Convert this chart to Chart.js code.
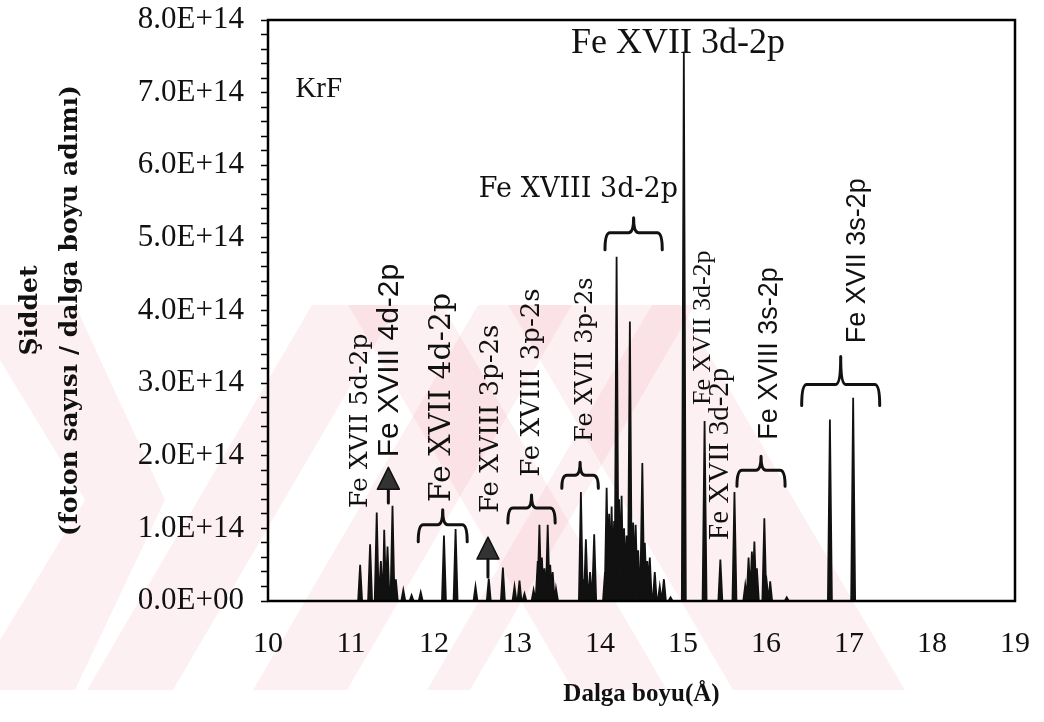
<!DOCTYPE html>
<html>
<head>
<meta charset="utf-8">
<script src="https://cdn.jsdelivr.net/npm/chart.js@4.4.1/dist/chart.umd.min.js"></script>
<style>
  html, body { margin: 0; padding: 0; background: #fff; }
  #wrap { width: 1044px; height: 722px; }
</style>
</head>
<body>
<div id="wrap"><canvas id="chart" width="1044" height="722"></canvas></div>
<script>
// line positions (Å) and peak heights (photons / wavelength step)
const peakWavelengths = [
  11.11, 11.23, 11.31, 11.36, 11.40, 11.44, 11.50, 11.54, 11.63, 11.73, 11.84,
  12.12, 12.26, 12.50, 12.66, 12.83, 12.97, 13.03, 13.09,
  13.20, 13.25, 13.27, 13.30, 13.33, 13.37, 13.40, 13.43, 13.47,
  13.77, 13.80, 13.83, 13.88, 13.93,
  14.06, 14.08, 14.11, 14.14, 14.17, 14.20, 14.23, 14.26, 14.29, 14.32, 14.36,
  14.40, 14.43, 14.46, 14.51, 14.54, 14.57, 14.60, 14.66, 14.72, 14.77, 14.85,
  15.01, 15.26, 15.45, 15.62, 15.75, 15.79, 15.83, 15.86, 15.89, 15.98, 16.01, 16.05, 16.25,
  16.77, 17.05
];
const peakIntensities = [
  0.50e14, 0.78e14, 1.22e14, 0.55e14, 0.98e14, 0.75e14, 1.31e14, 0.30e14, 0.15e14, 0.08e14, 0.12e14,
  0.90e14, 0.99e14, 0.20e14, 0.31e14, 0.46e14, 0.20e14, 0.28e14, 0.10e14,
  0.15e14, 0.55e14, 1.05e14, 0.60e14, 0.45e14, 1.05e14, 0.50e14, 0.40e14, 0.17e14,
  1.50e14, 0.30e14, 0.85e14, 0.40e14, 0.92e14,
  0.40e14, 1.56e14, 1.20e14, 1.30e14, 1.10e14, 4.74e14, 1.40e14, 1.45e14, 1.00e14, 0.90e14, 3.85e14,
  1.08e14, 1.05e14, 0.70e14, 1.90e14, 0.80e14, 0.55e14, 0.60e14, 0.40e14, 0.20e14, 0.30e14, 0.05e14,
  7.55e14, 2.48e14, 0.57e14, 1.50e14, 0.22e14, 0.60e14, 0.68e14, 0.82e14, 0.45e14, 1.14e14, 0.25e14, 0.27e14, 0.05e14,
  2.50e14, 2.80e14
];
const xRange = [10, 19];
const yRange = [0, 8e14];

// build the spectrum trace: each line is a narrow spike on a zero baseline
const PEAK_HALF_WIDTH = 0.024;
const spectrum = [{ x: xRange[0], y: 0 }];
peakWavelengths.forEach((w, i) => {
  spectrum.push({ x: w - PEAK_HALF_WIDTH, y: 0 });
  spectrum.push({ x: w, y: peakIntensities[i] });
  spectrum.push({ x: w + PEAK_HALF_WIDTH, y: 0 });
});
spectrum.push({ x: xRange[1], y: 0 });

function sci(v) {
  if (v === 0) return '0.0E+00';
  const e = Math.floor(Math.log10(v) + 1e-9);
  const m = v / Math.pow(10, e);
  return m.toFixed(1) + 'E+' + String(e).padStart(2, '0');
}

// line identifications (placed in data coordinates)
const SERIF = '"Liberation Serif", "Times New Roman", serif';
const WIDE_SERIF = '"DejaVu Serif", serif';
const SANS = '"Liberation Sans", Arial, sans-serif';
const labels = [
  { text: 'Fe XVII 3d-2p', x: 14.94, y: 7.67e14, rot: false, align: 'center', font: '36px ' + SERIF },
  { text: 'KrF', x: 10.33, y: 7.04e14, rot: false, align: 'left', font: '29px ' + SERIF },
  { text: 'Fe XVIII 3d-2p', x: 14.94, y: 5.66e14, rot: false, align: 'right', font: '27px ' + WIDE_SERIF },
  { text: 'Fe XVII 5d-2p', x: 11.12, y: 1.28e14, rot: true, font: '25px ' + WIDE_SERIF },
  { text: 'Fe XVIII 4d-2p', x: 11.47, y: 1.98e14, rot: true, font: '30px ' + SANS },
  { text: 'Fe XVII 4d-2p', x: 12.10, y: 1.36e14, rot: true, font: '30px ' + WIDE_SERIF },
  { text: 'Fe XVIII 3p-2s', x: 12.69, y: 1.21e14, rot: true, font: '26px ' + WIDE_SERIF },
  { text: 'Fe XVIII 3p-2s', x: 13.18, y: 1.71e14, rot: true, font: '26px ' + WIDE_SERIF },
  { text: 'Fe XVII 3p-2s', x: 13.83, y: 2.19e14, rot: true, font: '24px ' + WIDE_SERIF },
  { text: 'Fe XVII 3d-2p', x: 15.24, y: 2.70e14, rot: true, font: '26px ' + SERIF },
  { text: 'Fe XVII 3d-2p', x: 15.45, y: 0.84e14, rot: true, font: '29px ' + SERIF },
  { text: 'Fe XVIII 3s-2p', x: 16.04, y: 2.22e14, rot: true, font: '27px ' + SANS },
  { text: 'Fe XVII 3s-2p', x: 17.10, y: 3.55e14, rot: true, font: '27px ' + SANS }
];
const braces = [
  { x0: 11.81, x1: 12.40, y: 1.05e14, tip: 17, peak: 15 },
  { x0: 12.89, x1: 13.46, y: 1.28e14, tip: 15, peak: 13 },
  { x0: 13.54, x1: 13.98, y: 1.73e14, tip: 13, peak: 13 },
  { x0: 14.06, x1: 14.75, y: 5.07e14, tip: 17, peak: 15 },
  { x0: 15.65, x1: 16.23, y: 1.80e14, tip: 16, peak: 14 },
  { x0: 16.43, x1: 17.37, y: 2.98e14, tip: 21, peak: 28 }
];
const arrows = [
  { x: 11.45, tip: 1.84e14, tail: 1.35e14 },
  { x: 12.65, tip: 0.88e14, tail: 0.33e14 }
];

// faint pink diagonal watermark of the scanned page
const watermarkPlugin = {
  id: 'watermark',
  beforeDraw(chart) {
    const { ctx } = chart;
    const top = 305, bottom = 690, s = 225;
    const up = [[87, 173], [253, 347], [427, 470]];      // "/" stripes, bottom x-extent
    const down = [[573, 667], [733, 905]];                // "\" stripes, bottom x-extent
    ctx.save();
    ctx.beginPath();
    ctx.rect(0, top, 910, bottom - top);
    ctx.clip();
    ctx.fillStyle = 'rgba(236, 110, 130, 0.10)';
    up.forEach(([a, b]) => {
      ctx.beginPath();
      ctx.moveTo(a, bottom); ctx.lineTo(b, bottom);
      ctx.lineTo(b + s, top); ctx.lineTo(a + s, top);
      ctx.closePath(); ctx.fill();
    });
    down.forEach(([a, b]) => {
      ctx.beginPath();
      ctx.moveTo(a, bottom); ctx.lineTo(b, bottom);
      ctx.lineTo(b - s, top); ctx.lineTo(a - s, top);
      ctx.closePath(); ctx.fill();
    });
    // chevron at the far left
    ctx.beginPath();
    ctx.moveTo(0, top); ctx.lineTo(75, top); ctx.lineTo(165, 500);
    ctx.lineTo(75, bottom); ctx.lineTo(0, bottom); ctx.lineTo(0, 640);
    ctx.lineTo(85, 500); ctx.lineTo(0, 360);
    ctx.closePath(); ctx.fill();
    ctx.restore();
  }
};

const framePlugin = {
  id: 'frame',
  afterDatasetsDraw(chart) {
    const { ctx, chartArea: a } = chart;
    ctx.save();
    ctx.strokeStyle = '#000';
    ctx.lineWidth = 2.5;
    ctx.strokeRect(a.left, a.top, a.right - a.left, a.bottom - a.top);
    ctx.restore();
  }
};

const notesPlugin = {
  id: 'notes',
  afterDraw(chart) {
    const { ctx } = chart;
    const sx = chart.scales.x, sy = chart.scales.y;
    ctx.save();
    ctx.fillStyle = '#111';
    ctx.strokeStyle = '#111';
    labels.forEach(l => {
      const px = sx.getPixelForValue(l.x), py = sy.getPixelForValue(l.y);
      ctx.font = l.font;
      ctx.save();
      ctx.translate(px, py);
      if (l.rot) {
        ctx.rotate(-Math.PI / 2);
        ctx.textAlign = 'left';
      } else {
        ctx.textAlign = l.align;
      }
      ctx.textBaseline = 'middle';
      ctx.fillText(l.text, 0, 0);
      ctx.restore();
    });

    ctx.lineWidth = 3;
    ctx.lineJoin = 'round';
    ctx.lineCap = 'round';
    braces.forEach(b => {
      const x0 = sx.getPixelForValue(b.x0), x1 = sx.getPixelForValue(b.x1);
      const y = sy.getPixelForValue(b.y);
      const xc = (x0 + x1) / 2, r = 5;
      ctx.beginPath();
      ctx.moveTo(x0, y + b.tip);
      ctx.quadraticCurveTo(x0, y, x0 + r, y);
      ctx.lineTo(xc - r, y);
      ctx.quadraticCurveTo(xc, y, xc, y - b.peak);
      ctx.quadraticCurveTo(xc, y, xc + r, y);
      ctx.lineTo(x1 - r, y);
      ctx.quadraticCurveTo(x1, y, x1, y + b.tip);
      ctx.stroke();
    });

    arrows.forEach(a => {
      const px = sx.getPixelForValue(a.x);
      const yt = sy.getPixelForValue(a.tip), yb = sy.getPixelForValue(a.tail);
      const hh = 22, hw = 11;
      ctx.lineWidth = 3;
      ctx.beginPath();
      ctx.moveTo(px, yt + hh - 2);
      ctx.lineTo(px, yb);
      ctx.stroke();
      ctx.fillStyle = '#333';
      ctx.beginPath();
      ctx.moveTo(px, yt);
      ctx.lineTo(px - hw, yt + hh);
      ctx.lineTo(px + hw, yt + hh);
      ctx.closePath();
      ctx.fill();
      ctx.lineWidth = 1.5;
      ctx.stroke();
    });
    ctx.restore();
  }
};

new Chart(document.getElementById('chart'), {
  type: 'line',
  data: {
    datasets: [{
      data: spectrum,
      borderColor: '#111',
      backgroundColor: '#111',
      borderWidth: 1.8,
      pointRadius: 0,
      tension: 0,
      fill: 'origin'
    }]
  },
  options: {
    responsive: false,
    animation: false,
    events: [],
    layout: { padding: { top: 20, right: 29, left: 0, bottom: 0 } },
    plugins: { legend: { display: false }, tooltip: { enabled: false } },
    scales: {
      x: {
        type: 'linear',
        min: xRange[0],
        max: xRange[1],
        afterFit(scale) {
          scale.height = 121;
          scale.paddingLeft = 0;
          scale.paddingRight = 0;
        },
        grid: { display: false },
        border: { display: false },
        ticks: {
          stepSize: 1,
          autoSkip: false,
          maxRotation: 0,
          padding: 17,
          color: '#111',
          font: { family: SERIF, size: 30 }
        },
        title: {
          display: true,
          text: 'Dalga boyu(Å)',
          color: '#111',
          font: { family: SERIF, size: 25, weight: 'bold' },
          padding: { top: 0, bottom: 12 }
        }
      },
      y: {
        min: yRange[0],
        max: yRange[1],
        afterFit(scale) {
          scale.width = 268;
          scale.paddingTop = 0;
          scale.paddingBottom = 0;
        },
        grid: { drawOnChartArea: false, drawTicks: true, tickLength: 7, tickColor: '#000', tickWidth: 1.5 },
        border: { display: false },
        ticks: {
          stepSize: 2e13,
          autoSkip: false,
          padding: 17,
          color: '#111',
          font: { family: SERIF, size: 31 },
          callback: v => (Math.round(v / 2e13) % 5 === 0 ? sci(v) : '')
        },
        title: {
          display: true,
          text: ['Şiddet', '(foton sayısı / dalga boyu adımı)'],
          color: '#111',
          font: { family: WIDE_SERIF, size: 25, weight: 'bold', lineHeight: 1.6 },
          padding: { top: 10, bottom: 0 }
        }
      }
    }
  },
  plugins: [watermarkPlugin, framePlugin, notesPlugin]
});
</script>
</body>
</html>
